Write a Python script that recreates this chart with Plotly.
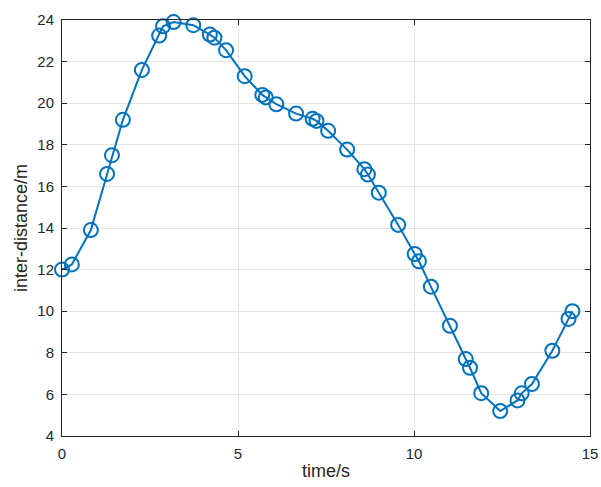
import plotly.graph_objects as go

time_s = [0.0, 0.28, 0.82, 1.28, 1.42, 1.73, 2.27, 2.76, 2.87, 3.17, 3.73, 4.2, 4.33, 4.66,
          5.19, 5.69, 5.79, 6.09, 6.65, 7.12, 7.23, 7.56, 8.1, 8.59, 8.69, 9.0, 9.55,
          10.02, 10.14, 10.48, 11.02, 11.47, 11.59, 11.91, 12.45, 12.94, 13.06, 13.35,
          13.93, 14.39, 14.5]
distance_m = [12.0, 12.25, 13.9, 16.6, 17.5, 19.2, 21.6, 23.25, 23.7, 23.9, 23.75, 23.3, 23.15,
              22.55, 21.3, 20.4, 20.28, 19.95, 19.5, 19.25, 19.15, 18.67, 17.77, 16.83, 16.57,
              15.7, 14.15, 12.75, 12.4, 11.18, 9.3, 7.7, 7.28, 6.06, 5.2, 5.71, 6.05, 6.5,
              8.1, 9.63, 10.0]

x_ticks = [0, 5, 10, 15]
y_ticks = [4, 6, 8, 10, 12, 14, 16, 18, 20, 22, 24]

fig = go.Figure()
fig.add_trace(go.Scatter(
    x=time_s, y=distance_m, mode="lines+markers",
    line=dict(color="#0072BD", width=2),
    marker=dict(symbol="circle-open", size=14, color="#0072BD", line=dict(width=2, color="#0072BD")),
    cliponaxis=False, showlegend=False,
))

axis_common = dict(
    showline=True, linecolor="#262626", linewidth=1, mirror="ticks",
    ticks="inside", ticklen=5, tickcolor="#262626",
    showgrid=True, gridcolor="#E3E3E3", gridwidth=1, zeroline=False,
    automargin=False, ticklabelstandoff=4,
    tickfont=dict(family="Liberation Sans, Arial, sans-serif", size=15, color="#262626"),
)

fig.update_layout(
    width=601, height=487,
    margin=dict(l=62, r=11, t=20, b=51),
    paper_bgcolor="white", plot_bgcolor="white",
    font=dict(family="Liberation Sans, Arial, sans-serif", size=15, color="#262626"),
    xaxis=dict(range=[0, 15], tickvals=x_ticks, title=dict(text="time/s", standoff=3), **axis_common),
    yaxis=dict(range=[4, 24], tickvals=y_ticks, title=dict(text="inter-distance/m", standoff=5), **axis_common),
)

fig.write_html(
    "out.html",
    config={"displayModeBar": False},
    post_script="document.body.style.margin='0';document.body.style.overflow='hidden';",
)
